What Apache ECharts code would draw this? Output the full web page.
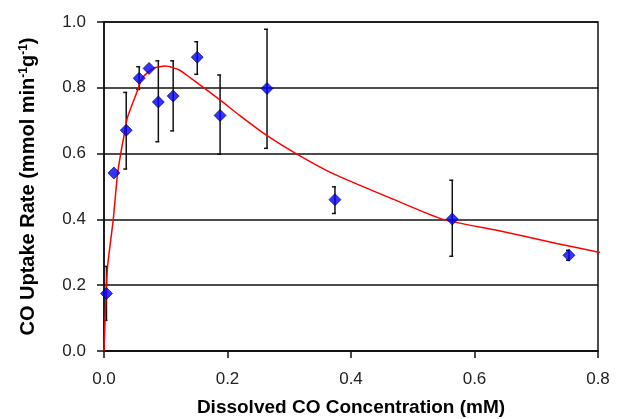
<!DOCTYPE html>
<html>
<head>
<meta charset="utf-8">
<script src="https://cdn.jsdelivr.net/npm/echarts@6/dist/echarts.min.js"></script>
<style>
  html, body { margin: 0; padding: 0; background: #fff; }
  #main { width: 618px; height: 419px; }
</style>
</head>
<body>
<div id="main"></div>
<script>
// measured points: [concentration mM, uptake rate]
const points = [
  [0.004, 0.175], [0.016, 0.541], [0.036, 0.671], [0.057, 0.829],
  [0.073, 0.859], [0.088, 0.757], [0.112, 0.775], [0.151, 0.893],
  [0.188, 0.716], [0.264, 0.798], [0.374, 0.460], [0.564, 0.401],
  [0.753, 0.291]
];
// error bars: [x, low, high]
const errBars = [
  [0.004, 0.093, 0.257], [0.036, 0.553, 0.786], [0.057, 0.795, 0.864],
  [0.088, 0.636, 0.882], [0.112, 0.669, 0.882], [0.151, 0.841, 0.940],
  [0.188, 0.598, 0.839], [0.264, 0.616, 0.978], [0.374, 0.418, 0.499],
  [0.564, 0.288, 0.519], [0.753, 0.276, 0.306]
];
// fitted curve
const fitCurve = [
  [0, 0], [0.003, 0.16], [0.006, 0.26], [0.015, 0.40], [0.022, 0.54],
  [0.028, 0.61], [0.032, 0.65], [0.038, 0.71], [0.054, 0.79], [0.062, 0.83],
  [0.080, 0.86], [0.100, 0.866], [0.122, 0.854], [0.140, 0.83], [0.163, 0.798],
  [0.192, 0.757], [0.219, 0.717], [0.263, 0.656], [0.311, 0.600], [0.370, 0.540],
  [0.470, 0.460], [0.549, 0.400], [0.636, 0.367], [0.733, 0.327], [0.812, 0.296]
];

var myChart = echarts.init(document.getElementById('main'), null, { renderer: 'canvas' });

var option = {
  backgroundColor: '#fff',
  animation: false,
  grid: {
    left: 104, right: 20, top: 22, bottom: 68,
    outerBoundsMode: 'none',
    containLabel: false,
    show: true, borderColor: '#111', borderWidth: 1.5
  },
  xAxis: {
    type: 'value',
    min: 0, max: 0.8, interval: 0.2,
    name: 'Dissolved CO Concentration (mM)',
    nameLocation: 'middle',
    nameGap: 47,
    nameTextStyle: { fontFamily: 'Liberation Sans', fontWeight: 'bold', fontSize: 19, color: '#000' },
    axisLine: { lineStyle: { color: '#111', width: 1.5 } },
    axisTick: { length: 7, lineStyle: { color: '#111', width: 1.5 } },
    axisLabel: {
      margin: 20, fontFamily: 'Liberation Sans', fontSize: 17, color: '#222',
      formatter: v => v.toFixed(1)
    },
    splitLine: { show: false }
  },
  yAxis: {
    type: 'value',
    min: 0, max: 1, interval: 0.2,
    name: 'CO Uptake Rate (mmol min{s|-1}g{s|-1})',
    nameLocation: 'middle',
    nameGap: 66,
    nameRotate: 90,
    nameTextStyle: {
      fontFamily: 'Liberation Sans', fontWeight: 'bold', fontSize: 20, color: '#000',
      rich: { s: { fontFamily: 'Liberation Sans', fontWeight: 'bold', fontSize: 12, verticalAlign: 'top', color: '#000' } }
    },
    axisLine: { lineStyle: { color: '#111', width: 1.5 } },
    axisTick: { length: 7, lineStyle: { color: '#111', width: 1.5 } },
    axisLabel: {
      margin: 18, fontFamily: 'Liberation Sans', fontSize: 17, color: '#222',
      formatter: v => v.toFixed(1)
    },
    splitLine: { show: true, lineStyle: { color: '#111', width: 1.5 } }
  },
  series: [
    {
      type: 'custom',
      z: 3,
      data: errBars,
      renderItem: function (params, api) {
        const lo = api.coord([api.value(0), api.value(1)]);
        const hi = api.coord([api.value(0), api.value(2)]);
        const c = 3;
        return {
          type: 'group',
          children: [
            { type: 'line', shape: { x1: lo[0], y1: lo[1], x2: hi[0], y2: hi[1] }, style: { stroke: '#111', lineWidth: 1.5 } },
            { type: 'line', shape: { x1: lo[0] - c, y1: lo[1], x2: lo[0] + 1, y2: lo[1] }, style: { stroke: '#111', lineWidth: 1.5 } },
            { type: 'line', shape: { x1: hi[0] - c, y1: hi[1], x2: hi[0] + 1, y2: hi[1] }, style: { stroke: '#111', lineWidth: 1.5 } }
          ]
        };
      }
    },
    {
      type: 'line',
      z: 4,
      data: fitCurve,
      clip: false,
      showSymbol: false,
      smooth: 0.2,
      lineStyle: { color: '#ff0000', width: 1.5 }
    },
    {
      type: 'scatter',
      z: 5,
      data: points,
      symbol: 'diamond',
      symbolSize: 12,
      itemStyle: { color: '#0000ff', borderColor: '#000033', borderWidth: 0.8 }
    }
  ]
};

option && myChart.setOption(option);
</script>
</body>
</html>
